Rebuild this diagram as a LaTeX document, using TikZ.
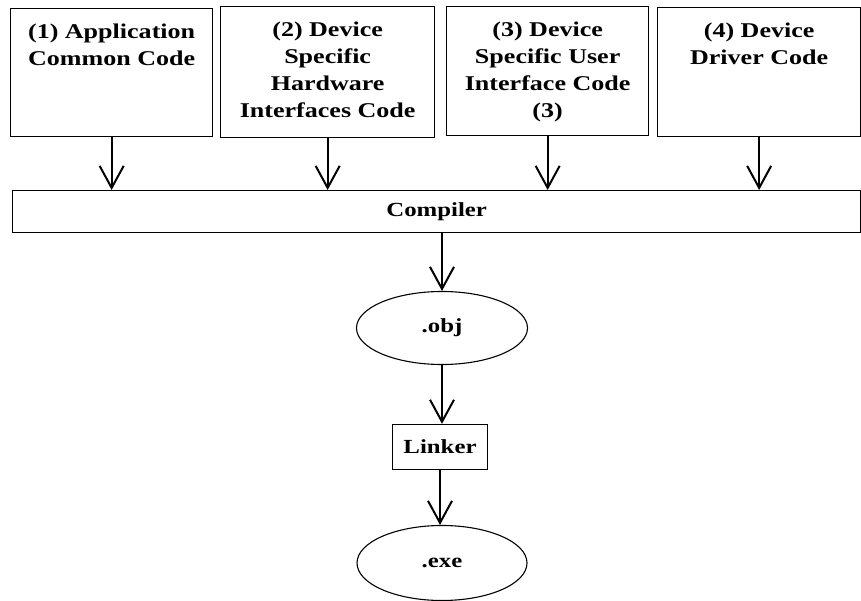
\documentclass[tikz,border=0pt]{standalone}
\usepackage{fontspec}
\setmainfont{Liberation Serif}[FakeStretch=1.24]
\usepackage{tikz}
\usetikzlibrary{arrows.meta,calc,positioning,shapes.geometric}

\newcommand{\boxtext}[3]{\parbox[t][#2][t]{#1}{\centering #3}}

\begin{document}
\begin{tikzpicture}[
    x=1pt, y=-1pt,
    src/.style={
      draw=black, line width=1.3pt,
      anchor=north west,
      inner xsep=0pt, inner ysep=15pt,
      font=\bfseries\fontsize{21}{27}\selectfont
    },
    bar/.style={
      draw=black, line width=1.3pt,
      minimum width=848pt, minimum height=42pt,
      anchor=north west, inner sep=0pt,
      font=\bfseries\fontsize{20}{24}\selectfont
    },
    oval/.style={
      ellipse, draw=black, line width=1.1pt,
      inner sep=0pt,
      font=\bfseries\fontsize{20}{24}\selectfont
    },
    step box/.style={
      draw=black, line width=1.3pt,
      minimum width=95pt, minimum height=45pt,
      inner sep=0pt,
      font=\bfseries\fontsize{20}{24}\selectfont
    },
    arr/.style={-{Straight Barb[length=22pt,width=24pt,line width=2pt]}, line width=2pt, draw=black}
  ]
  \useasboundingbox (0,0) rectangle (861,601);

  % Source code boxes
  \node[src] (app) at (10,8)   {\boxtext{202pt}{98pt}{(1) Application\\Common Code}};
  \node[src] (hw)  at (220,6)  {\boxtext{214pt}{101pt}{(2) Device\\Specific\\Hardware\\Interfaces Code}};
  \node[src] (ui)  at (446,6)  {\boxtext{202pt}{99pt}{(3) Device\\Specific User\\Interface Code\\(3)}};
  \node[src] (drv) at (657,7)  {\boxtext{203pt}{99pt}{(4) Device\\Driver Code}};

  % Compiler bar
  \node[bar] (comp) at (12,190) {Compiler};

  % Build chain
  \node[oval, minimum width=171pt, minimum height=73pt] (obj) at (442,328) {.obj};
  \node[step box] (link) at (440,447) {Linker};
  \node[oval, minimum width=170pt, minimum height=75pt] (exe) at (442,563) {.exe};

  % Arrows into the compiler
  \foreach \s in {app,hw,ui,drv}
    \draw[arr] (\s.south) -- (\s.south |- comp.north);

  % Arrows down the chain
  \draw[arr] (obj.north |- comp.south) -- (obj.north);
  \draw[arr] (obj.south) -- (obj.south |- link.north);
  \draw[arr] (link.south) -- (link.south |- exe.north);

\end{tikzpicture}
\end{document}
